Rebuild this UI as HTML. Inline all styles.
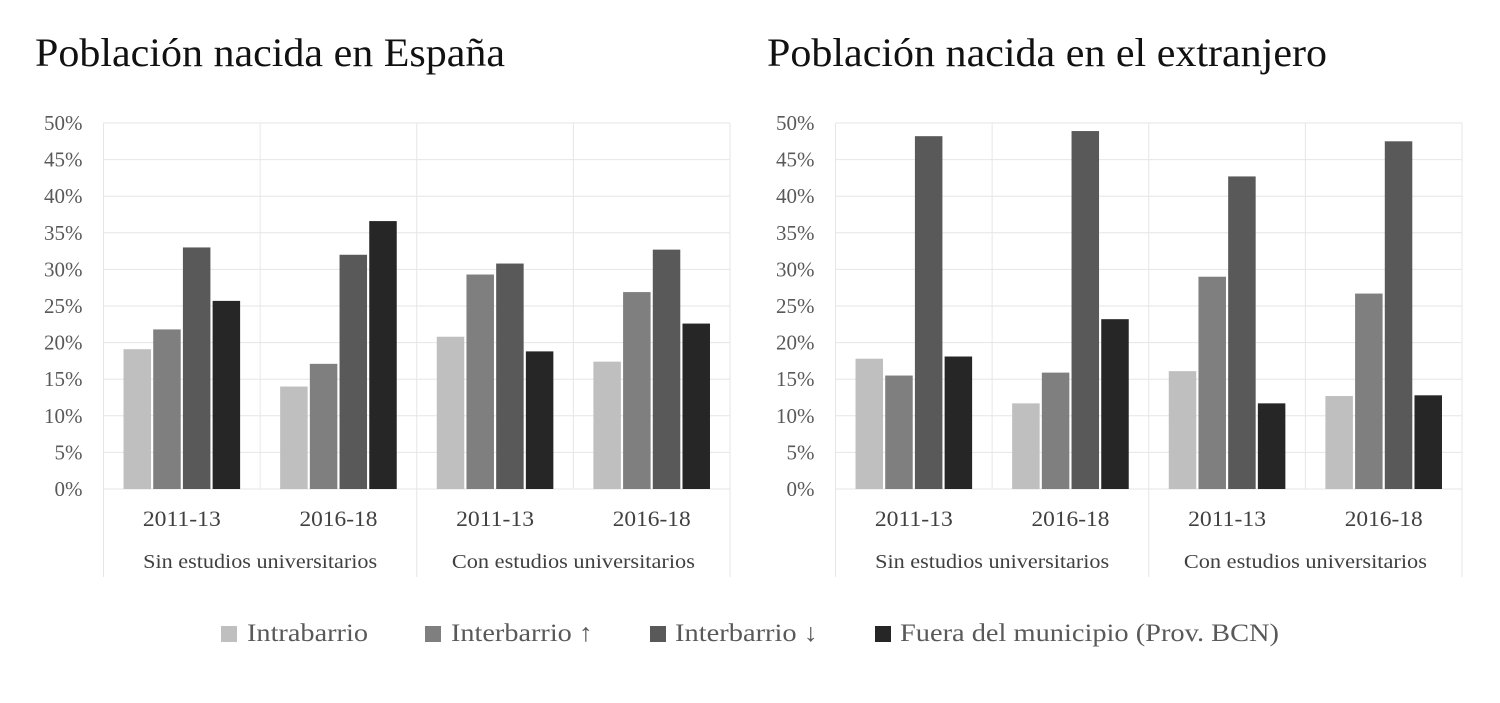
<!DOCTYPE html>
<html><head><meta charset="utf-8"><style>
body{margin:0;background:#fff;width:1500px;height:698px;overflow:hidden}
svg{font-family:"Liberation Serif",serif}
</style></head><body>
<svg id="svg" width="1500" height="698">
<text x="35" y="66" font-size="40" fill="#111" textLength="470" lengthAdjust="spacingAndGlyphs">Población nacida en España</text>
<text x="767" y="66" font-size="40" fill="#111" textLength="560" lengthAdjust="spacingAndGlyphs">Población nacida en el extranjero</text>
<g font-size="25" fill="#595959">
<rect x="221" y="626" width="16" height="16" fill="#bfbfbf"/>
<text x="247" y="641" textLength="121" lengthAdjust="spacingAndGlyphs">Intrabarrio</text>
<rect x="425" y="626" width="16" height="16" fill="#7f7f7f"/>
<text x="451" y="641" textLength="142" lengthAdjust="spacingAndGlyphs">Interbarrio ↑</text>
<rect x="650" y="626" width="16" height="16" fill="#595959"/>
<text x="675" y="641" textLength="143" lengthAdjust="spacingAndGlyphs">Interbarrio ↓</text>
<rect x="875" y="626" width="16" height="16" fill="#262626"/>
<text x="900" y="641" textLength="379" lengthAdjust="spacingAndGlyphs">Fuera del municipio (Prov. BCN)</text>
</g>
</svg>
<script>
const categories = ["2011-13","2016-18","2011-13","2016-18"];
const groupLabels = ["Sin estudios universitarios","Con estudios universitarios"];
const seriesNames = ["Intrabarrio","Interbarrio ↑","Interbarrio ↓","Fuera del municipio"];
const ticks = [0,5,10,15,20,25,30,35,40,45,50];
const espIntra = [19.1,14.0,20.8,17.4];
const espInterUp = [21.8,17.1,29.3,26.9];
const espInterDown = [33.0,32.0,30.8,32.7];
const espFuera = [25.7,36.6,18.8,22.6];
const extIntra = [17.8,11.7,16.1,12.7];
const extInterUp = [15.5,15.9,29.0,26.7];
const extInterDown = [48.2,48.9,42.7,47.5];
const extFuera = [18.1,23.2,11.7,12.8];
const colors = ["#bfbfbf","#7f7f7f","#595959","#262626"];
const NS="http://www.w3.org/2000/svg";
const svg=document.getElementById('svg');
function mk(tag,attrs,parent){const e=document.createElementNS(NS,tag);for(const k in attrs)e.setAttribute(k,attrs[k]);(parent||svg).appendChild(e);return e;}
function chart(x0,x1,series,prefix){
  const y0=489,y1=123;
  const y=v=>y0-(v/50)*(y0-y1);
  const gw=(x1-x0)/categories.length;
  const g=mk('g',{});
  
  
  ticks.forEach(t=>{
    const l=mk('line',{x1:x0,x2:x1,y1:y(t),y2:y(t),stroke:'#e6e6e6','stroke-width':1},g);
    
    
    const tx=mk('text',{x:x0-21,y:y(t)+7,'text-anchor':'end','font-size':21,fill:'#595959'},g);
    tx.textContent=t+'%';
    
    
  });
  [0,1,2,3,4].forEach(i=>{
    const full=(i%2===0);
    const l=mk('line',{x1:x0+i*gw,x2:x0+i*gw,y1:y1,y2:full?577:y0,stroke:'#e6e6e6','stroke-width':1},g);
    
    
  });
  categories.forEach((c,ci)=>{
    const gx=x0+ci*gw;
    const bw=27.5,gap=2.2;
    const start=gx+(gw-(4*bw+3*gap))/2;
    series.forEach((s,si)=>{
      const v=s[ci];
      const r=mk('rect',{x:start+si*(bw+gap),y:y(v),width:bw,height:y0-y(v),fill:colors[si]},g);
      
      
    });
    const t=mk('text',{x:gx+gw/2,y:526,'text-anchor':'middle','font-size':22,fill:'#404040',textLength:78,lengthAdjust:'spacingAndGlyphs'},g);
    t.textContent=c;
    
    
  });
  groupLabels.forEach((gl,gi)=>{
    const t=mk('text',{x:x0+(gi*2+1)*gw,y:568,'text-anchor':'middle','font-size':20,fill:'#404040',textLength:gi===0?234:243,lengthAdjust:'spacingAndGlyphs'},g);
    t.textContent=gl;
    
    
  });
}
chart(103.5,730,[espIntra,espInterUp,espInterDown,espFuera],'spain');
chart(835.5,1462,[extIntra,extInterUp,extInterDown,extFuera],'foreign');
</script>
</body></html>
